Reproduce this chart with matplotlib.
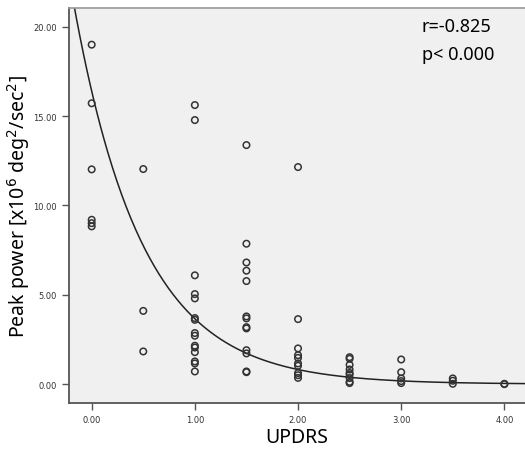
import numpy as np
import matplotlib
matplotlib.use('Agg')
import matplotlib.pyplot as plt

# UPDRS score groups and peak power values
updrs_0 = [19.0, 15.72, 12.02, 9.2, 9.01, 8.83]
updrs_05 = [12.04, 4.1, 1.83]
updrs_1 = [15.62, 14.78, 6.09, 5.04, 4.80, 3.70, 3.60, 2.86, 2.71, 2.15, 2.05,
           1.79, 1.27, 1.16, 0.71]
updrs_15 = [13.38, 7.86, 6.81, 6.35, 5.77, 3.79, 3.68, 3.19, 3.12, 1.90, 1.72,
            0.71, 0.67]
updrs_2 = [12.15, 3.64, 2.0, 1.62, 1.47, 1.16, 1.03, 0.62, 0.50, 0.35]
updrs_25 = [1.51, 1.42, 1.08, 0.82, 0.63, 0.54, 0.34, 0.13, 0.06]
updrs_3 = [1.38, 0.67, 0.32, 0.17, 0.06]
updrs_35 = [0.32, 0.19, 0.02]
updrs_4 = [0.0, 0.02]

groups = [0.0, 0.5, 1.0, 1.5, 2.0, 2.5, 3.0, 3.5, 4.0]
values = [updrs_0, updrs_05, updrs_1, updrs_15, updrs_2, updrs_25, updrs_3,
          updrs_35, updrs_4]

# exponential fit y = a * exp(-b * x)
fit_a = 16.4
fit_b = 1.5

x_ticks = [0, 1, 2, 3, 4]
y_ticks = [0, 5, 10, 15, 20]

xs = np.concatenate([[g] * len(v) for g, v in zip(groups, values)])
ys = np.concatenate(values)

fig = plt.figure(figsize=(5.25, 4.52), dpi=100)
ax = fig.add_axes([0.1314, 0.106, 0.8686, 0.874])
ax.set_facecolor('#f0f0f0')

xc = np.linspace(-0.25, 4.25, 400)
ax.plot(xc, fit_a * np.exp(-fit_b * xc), color='#222222', lw=1.1, zorder=2)
ax.scatter(xs, ys, s=22, facecolors='none', edgecolors='#333333',
           linewidths=1.1, zorder=3)

ax.set_xlim(-0.22, 4.2)
ax.set_ylim(-1.06, 21.05)
ax.set_xticks(x_ticks)
ax.set_yticks(y_ticks)
ax.set_xticklabels(['%.2f' % t for t in x_ticks])
ax.set_yticklabels(['%.2f' % t for t in y_ticks])
ax.tick_params(direction='out', length=5, width=1, color='#555555',
               labelsize=6, labelcolor='#333333')

for side in ['left', 'bottom']:
    ax.spines[side].set_color('#555555')
    ax.spines[side].set_linewidth(1.3)
ax.spines['top'].set_color('#999999')
ax.spines['top'].set_linewidth(1.2)
ax.spines['right'].set_visible(False)

ax.set_xlabel('UPDRS', fontsize=14, family='Noto Sans', labelpad=2)
ax.set_ylabel('Peak power [x10$^{6}$ deg$^{2}$/sec$^{2}$]', fontsize=14,
              family='Noto Sans', labelpad=1)

ax.text(0.774, 0.954, 'r=-0.825', transform=ax.transAxes, fontsize=13,
        family='Noto Sans', va='center', ha='left')
ax.text(0.774, 0.884, 'p< 0.000', transform=ax.transAxes, fontsize=13,
        family='Noto Sans', va='center', ha='left')

fig.savefig('out.png', dpi=100)
